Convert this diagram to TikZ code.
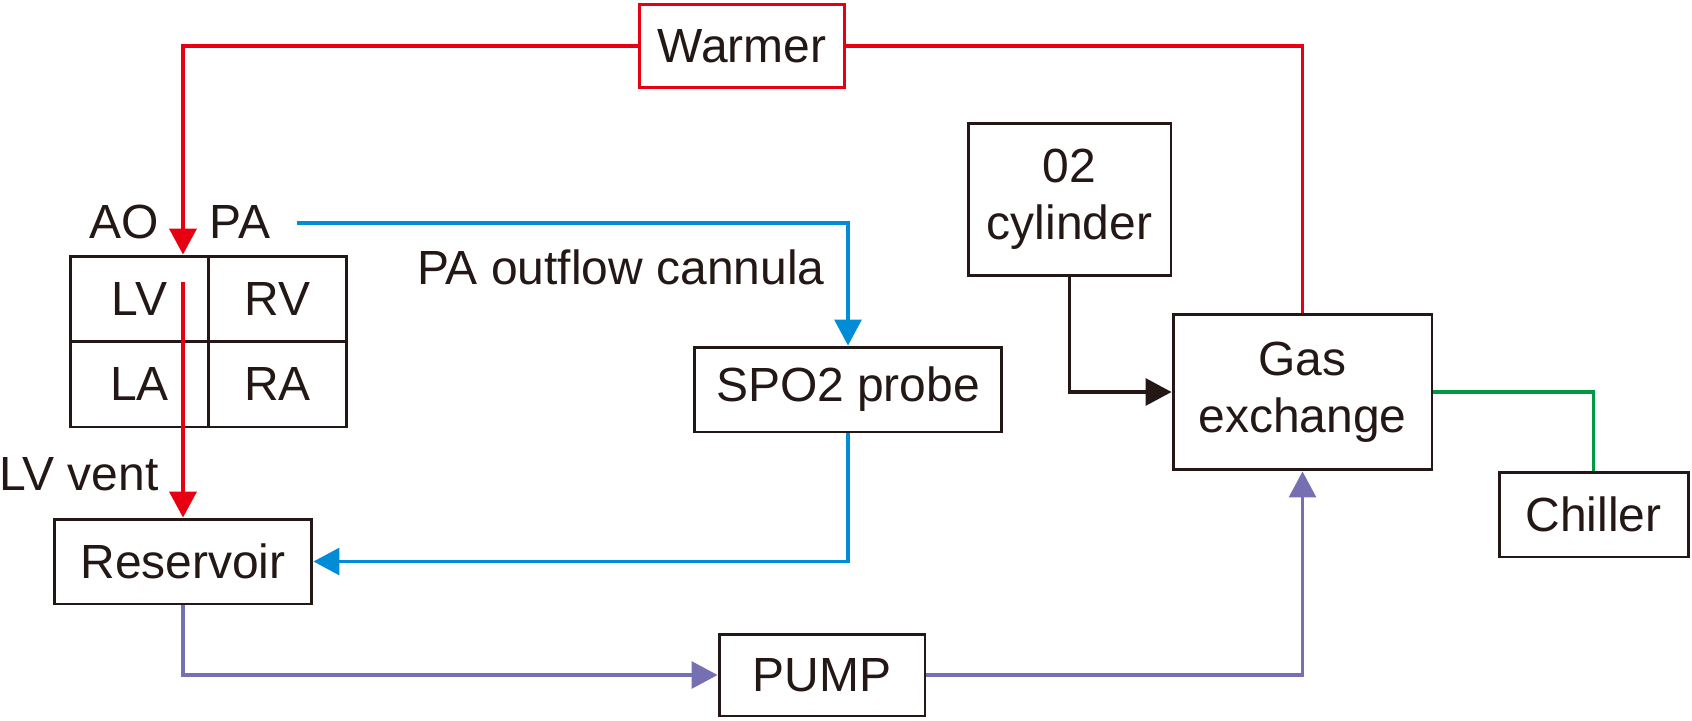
\documentclass[tikz,border=0pt]{standalone}
\usepackage{fontspec}
\setmainfont{Liberation Sans}
\usepackage{tikz}
\usetikzlibrary{arrows.meta,calc}

\definecolor{redline}{RGB}{230,0,18}
\definecolor{blueline}{RGB}{0,140,214}
\definecolor{purpleline}{RGB}{117,112,178}
\definecolor{greenline}{RGB}{0,153,68}
\definecolor{inkblack}{RGB}{35,24,21}

\begin{document}
\begin{tikzpicture}[x=0.02cm, y=-0.02cm, >={Triangle[length=0.52cm,width=0.54cm]},
 every node/.style={font=\fontsize{27.3}{32.4}\selectfont, text=inkblack},
 box/.style={draw=inkblack, line width=1.7pt, inner sep=0pt, align=center},
 flow/.style={line width=1.8pt}]

\useasboundingbox (0,0) rectangle (1692,720);

\node[box, draw=redline, minimum width=4.10cm, minimum height=1.68cm] (warmer) at (742,46) {Warmer};

% heart
\node[box, minimum width=2.76cm, minimum height=1.71cm] (lv) at (139.5,298.75) {LV};
\node[box, minimum width=2.76cm, minimum height=1.71cm] (rv) at (277.5,298.75) {RV};
\node[box, minimum width=2.76cm, minimum height=1.71cm] (la) at (139.5,384.25) {LA};
\node[box, minimum width=2.76cm, minimum height=1.71cm] (ra) at (277.5,384.25) {RA};
\node (ao) at (124,222) {AO};
\node (pa) at (240,222) {PA};
\node (vent) at (79,474) {LV vent};
\node (cannula) at (621,267) {PA outflow cannula};

\node[box, minimum width=5.16cm, minimum height=1.70cm] (reservoir) at (183,561.5) {Reservoir};
\node[box, minimum width=6.16cm, minimum height=1.70cm] (spo2) at (848,389.5) {SPO2 probe};
\node[box, minimum width=4.12cm, minimum height=1.64cm] (pump) at (822,675) {PUMP};
\node[box, minimum width=4.06cm, minimum height=3.06cm] (cylinder) at (1069.5,199.5) {02\\cylinder};
\node[box, minimum width=5.18cm, minimum height=3.12cm] (gas) at (1302.5,392) {Gas\\exchange};
\node[box, minimum width=3.78cm, minimum height=1.70cm] (chiller) at (1593.5,514.5) {Chiller};

\coordinate (ventin) at (183,282);
\coordinate (paout) at (297,223);

\draw[flow, redline, line width=2.2pt, ->] (warmer.west) -| ([xshift=0.87cm]lv.north);
\draw[flow, redline, line width=2.2pt] (warmer.east) -| (gas.north);
\draw[flow, redline, line width=2.2pt, ->] (ventin) -- (reservoir.north);

\draw[flow, blueline, ->] (paout) -| (spo2.north);
\draw[flow, blueline, ->] (spo2.south) |- (reservoir.east);

\draw[flow, purpleline, ->] (reservoir.south) |- (pump.west);
\draw[flow, purpleline, ->] (pump.east) -| (gas.south);

\draw[flow, inkblack, ->] (cylinder.south) |- (gas.west);
\draw[flow, greenline] (gas.east) -| (chiller.north);

\end{tikzpicture}
\end{document}
